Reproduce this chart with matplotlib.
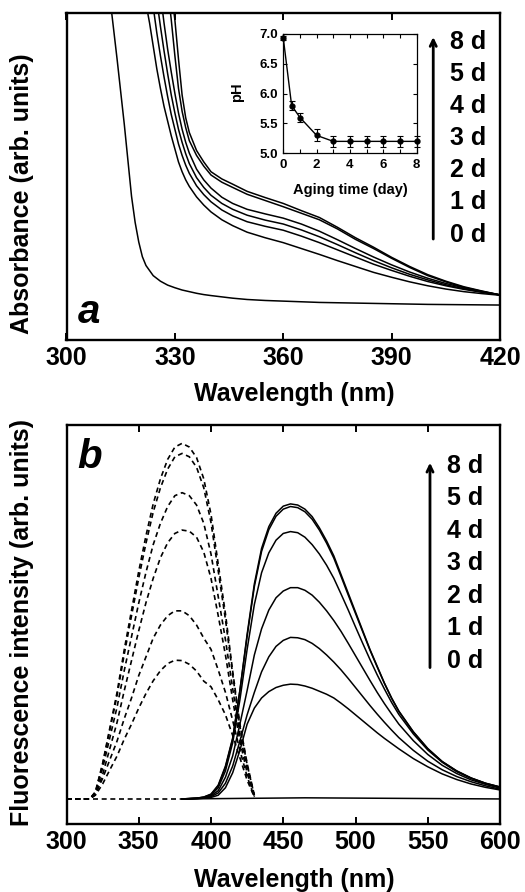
import matplotlib
matplotlib.use('Agg')
import matplotlib.pyplot as plt
from matplotlib.ticker import MultipleLocator

plt.rcParams['font.family'] = ['Liberation Sans', 'DejaVu Sans']
plt.rcParams['font.weight'] = 'bold'

# ---------------- data: panel a (absorbance) ----------------
day_labels = ['8 d', '5 d', '4 d', '3 d', '2 d', '1 d', '0 d']

abs0_wl = [310, 312, 314, 316, 318, 319, 320, 321, 322, 324, 326, 328, 330, 332, 334,
           336, 338, 340, 343, 346, 350, 355, 360, 365, 370, 380, 390, 400, 410, 420]
abs_0d = [1.3, 1.05, 0.86, 0.66, 0.44, 0.36, 0.30, 0.255, 0.228, 0.197, 0.18, 0.168, 0.16,
          0.153, 0.148, 0.143, 0.139, 0.136, 0.132, 0.128, 0.124, 0.121, 0.119, 0.117,
          0.115, 0.113, 0.111, 0.109, 0.108, 0.107]

abs_wl = [322, 323, 324, 325, 326, 327, 328, 329, 330, 331, 332, 333, 334, 336, 338, 340,
          343, 346, 350, 355, 360, 365, 370, 375, 380, 385, 390, 395, 400, 405, 410, 415, 420]
abs_1d = [1.03, 0.97, 0.90, 0.83, 0.77, 0.715, 0.67, 0.625, 0.585, 0.545, 0.515, 0.49, 0.47,
          0.438, 0.413, 0.392, 0.368, 0.35, 0.33, 0.313, 0.298, 0.28, 0.262, 0.243, 0.225,
          0.207, 0.192, 0.178, 0.166, 0.156, 0.148, 0.142, 0.137]
abs_2d = [1.18, 1.10, 1.02, 0.94, 0.87, 0.805, 0.745, 0.69, 0.645, 0.6, 0.565, 0.535, 0.51,
          0.472, 0.445, 0.423, 0.398, 0.38, 0.362, 0.348, 0.336, 0.318, 0.298, 0.276, 0.254,
          0.232, 0.213, 0.195, 0.179, 0.166, 0.155, 0.146, 0.138]
abs_3d = [1.3, 1.22, 1.13, 1.04, 0.96, 0.885, 0.815, 0.75, 0.695, 0.645, 0.605, 0.57, 0.54,
          0.497, 0.467, 0.443, 0.418, 0.4, 0.382, 0.367, 0.355, 0.337, 0.316, 0.292, 0.267,
          0.243, 0.221, 0.201, 0.184, 0.169, 0.157, 0.147, 0.138]
abs_4d = [1.42, 1.33, 1.24, 1.15, 1.06, 0.97, 0.89, 0.82, 0.755, 0.695, 0.645, 0.605, 0.572,
          0.523, 0.49, 0.465, 0.437, 0.418, 0.4, 0.386, 0.373, 0.355, 0.333, 0.307, 0.28,
          0.254, 0.23, 0.208, 0.189, 0.173, 0.16, 0.148, 0.138]
abs_5d = [1.7, 1.6, 1.5, 1.4, 1.29, 1.18, 1.08, 0.98, 0.87, 0.77, 0.70, 0.65, 0.61, 0.565,
          0.532, 0.505, 0.483, 0.467, 0.446, 0.427, 0.408, 0.388, 0.368, 0.34, 0.308, 0.28,
          0.25, 0.222, 0.197, 0.178, 0.161, 0.149, 0.138]
abs_8d = [1.8, 1.7, 1.6, 1.5, 1.38, 1.27, 1.17, 1.07, 0.98, 0.86, 0.75, 0.68, 0.635, 0.58,
          0.545, 0.515, 0.493, 0.477, 0.455, 0.436, 0.418, 0.396, 0.375, 0.345, 0.313, 0.284,
          0.253, 0.225, 0.2, 0.18, 0.163, 0.15, 0.138]

# inset: pH vs aging time
ph_days = [0, 0.5, 1, 2, 3, 4, 5, 6, 7, 8]
ph_vals = [6.93, 5.80, 5.60, 5.30, 5.20, 5.20, 5.20, 5.20, 5.20, 5.20]
ph_err = [0.03, 0.08, 0.08, 0.10, 0.09, 0.09, 0.09, 0.09, 0.09, 0.09]

# ---------------- data: panel b (fluorescence) ----------------
em_wl = [380, 390, 395, 400, 405, 410, 415, 420, 425, 430, 435, 440, 445, 450, 455, 460,
         465, 470, 475, 480, 485, 490, 495, 500, 505, 510, 515, 520, 525, 530, 540, 550,
         560, 570, 580, 590, 600]
em_8d = [0, 0.002, 0.005, 0.012, 0.035, 0.085, 0.16, 0.29, 0.44, 0.575, 0.67, 0.728, 0.764,
         0.783, 0.789, 0.786, 0.775, 0.755, 0.725, 0.69, 0.65, 0.60, 0.55, 0.50, 0.45, 0.40,
         0.355, 0.31, 0.27, 0.235, 0.18, 0.135, 0.10, 0.075, 0.056, 0.042, 0.032]
em_5d = [0, 0.002, 0.005, 0.013, 0.037, 0.088, 0.163, 0.29, 0.435, 0.568, 0.662, 0.72,
         0.756, 0.775, 0.782, 0.779, 0.768, 0.748, 0.719, 0.684, 0.644, 0.595, 0.545, 0.496,
         0.447, 0.398, 0.353, 0.309, 0.269, 0.234, 0.179, 0.134, 0.1, 0.075, 0.056, 0.042, 0.032]
em_4d = [0, 0.002, 0.004, 0.01, 0.03, 0.075, 0.15, 0.265, 0.40, 0.52, 0.605, 0.658, 0.692,
         0.71, 0.715, 0.712, 0.70, 0.68, 0.655, 0.625, 0.59, 0.548, 0.505, 0.46, 0.416,
         0.373, 0.332, 0.294, 0.258, 0.226, 0.174, 0.131, 0.098, 0.073, 0.055, 0.041, 0.031]
em_3d = [0, 0.001, 0.003, 0.008, 0.022, 0.058, 0.115, 0.20, 0.29, 0.385, 0.455, 0.505,
         0.538, 0.556, 0.565, 0.565, 0.558, 0.545, 0.526, 0.503, 0.477, 0.448, 0.416, 0.383,
         0.35, 0.317, 0.285, 0.255, 0.227, 0.2, 0.156, 0.119, 0.09, 0.068, 0.051, 0.039, 0.029]
em_2d = [0, 0.001, 0.002, 0.006, 0.016, 0.042, 0.088, 0.155, 0.225, 0.285, 0.34, 0.38,
         0.408, 0.424, 0.432, 0.431, 0.426, 0.416, 0.402, 0.385, 0.366, 0.345, 0.322, 0.298,
         0.274, 0.25, 0.227, 0.205, 0.184, 0.164, 0.13, 0.101, 0.078, 0.06, 0.046, 0.035, 0.026]
em_1d = [0, 0.001, 0.002, 0.004, 0.01, 0.03, 0.07, 0.13, 0.2, 0.243, 0.27, 0.287, 0.298,
         0.304, 0.307, 0.306, 0.302, 0.296, 0.288, 0.28, 0.27, 0.256, 0.241, 0.225, 0.209,
         0.193, 0.177, 0.162, 0.148, 0.134, 0.108, 0.086, 0.067, 0.052, 0.04, 0.031, 0.024]
em0_wl = [380, 465, 600]
em_0d = [0.0, 0.003, 0.0]

ex_wl = [300, 316, 320, 325, 330, 335, 340, 345, 350, 355, 360, 365, 370, 375, 380, 385,
         390, 395, 400, 405, 410, 415, 420, 425, 430]
ex_8d = [0, 0, 0.019, 0.095, 0.19, 0.285, 0.40, 0.504, 0.609, 0.704, 0.789, 0.856, 0.908,
         0.941, 0.951, 0.941, 0.913, 0.856, 0.761, 0.628, 0.495, 0.342, 0.20, 0.095, 0.01]
ex_5d = [0, 0, 0.018, 0.092, 0.185, 0.277, 0.388, 0.49, 0.591, 0.684, 0.767, 0.832, 0.882,
         0.915, 0.924, 0.915, 0.887, 0.832, 0.739, 0.61, 0.48, 0.333, 0.194, 0.092, 0.009]
ex_4d = [0, 0, 0.016, 0.082, 0.164, 0.246, 0.344, 0.434, 0.524, 0.606, 0.68, 0.737, 0.782,
         0.811, 0.819, 0.811, 0.786, 0.737, 0.655, 0.541, 0.426, 0.295, 0.172, 0.082, 0.008]
ex_3d = [0, 0, 0.012, 0.065, 0.135, 0.205, 0.29, 0.37, 0.45, 0.525, 0.59, 0.645, 0.685,
         0.71, 0.719, 0.716, 0.70, 0.66, 0.59, 0.49, 0.385, 0.265, 0.155, 0.07, 0.006]
ex_2d = [0, 0, 0.012, 0.055, 0.105, 0.155, 0.215, 0.27, 0.33, 0.38, 0.43, 0.465, 0.49,
         0.503, 0.503, 0.49, 0.465, 0.43, 0.40, 0.345, 0.285, 0.21, 0.13, 0.06, 0.005]
ex_1d = [0, 0, 0.01, 0.04, 0.078, 0.115, 0.16, 0.2, 0.243, 0.282, 0.316, 0.343, 0.362,
         0.371, 0.37, 0.36, 0.342, 0.315, 0.30, 0.265, 0.225, 0.17, 0.11, 0.05, 0.005]
ex0_wl = [300, 380]
ex_0d = [0.0, 0.0]

# ---------------- figure ----------------
W, H = 525, 892
fig = plt.figure(figsize=(W / 100, H / 100), dpi=100)


def rect(l, t, r, b):
    return [l / W, 1 - b / H, (r - l) / W, (b - t) / H]


axa = fig.add_axes(rect(66.5, 13.3, 500, 340))
axb = fig.add_axes(rect(66.5, 425, 500, 824))
axi = fig.add_axes(rect(283.3, 34, 416.7, 153.3))

LW = 1.1
for ax in (axa, axb):
    for s in ax.spines.values():
        s.set_linewidth(1.7)
    ax.tick_params(axis='x', direction='in', length=5, width=1.4, top=True, bottom=True,
                   labelsize=18, pad=4)
    ax.set_yticks([])

# panel a
axa.plot(abs0_wl, abs_0d, color='black', lw=LW)
for y in (abs_1d, abs_2d, abs_3d, abs_4d, abs_5d, abs_8d):
    axa.plot(abs_wl, y, color='black', lw=LW)
axa.set_xlim(300, 420)
axa.set_ylim(0, 1)
axa.set_xticks([300, 330, 360, 390, 420])
axa.text(0.026, 0.052, 'a', transform=axa.transAxes, fontsize=29, style='italic',
         fontweight='bold', ha='left', va='baseline')

# panel b
dash = (0, (3.0, 2.2))
axb.plot(ex0_wl, ex_0d, color='black', lw=1.2, linestyle=dash)
for y in (ex_1d, ex_2d, ex_3d, ex_4d, ex_5d, ex_8d):
    axb.plot(ex_wl, y, color='black', lw=1.2, linestyle=dash)
axb.plot(em0_wl, em_0d, color='black', lw=LW)
for y in (em_1d, em_2d, em_3d, em_4d, em_5d, em_8d):
    axb.plot(em_wl, y, color='black', lw=LW)
axb.set_xlim(300, 600)
axb.set_ylim(-0.067, 1.0)
axb.set_xticks([300, 350, 400, 450, 500, 550, 600])
axb.text(0.024, 0.892, 'b', transform=axb.transAxes, fontsize=29, style='italic',
         fontweight='bold', ha='left', va='baseline')

# day labels and arrows
for i, lab in enumerate(day_labels):
    ya = (340 - (48.3 + 32.2 * i)) / 327
    axa.text(0.885, ya, lab, transform=axa.transAxes, fontsize=18, ha='left', va='baseline')
    yb = (824 - (472.7 + 32.5 * i)) / 399
    axb.text(0.878, yb, lab, transform=axb.transAxes, fontsize=18, ha='left', va='baseline')

arrow_kw = dict(arrowstyle='->,head_length=0.45,head_width=0.22', lw=2.0, color='black',
                shrinkA=0, shrinkB=0)
axa.annotate('', xy=(0.846, 0.9275), xytext=(0.846, 0.309), xycoords='axes fraction',
             textcoords='axes fraction', arrowprops=arrow_kw)
axb.annotate('', xy=(0.8385, 0.9055), xytext=(0.8385, 0.392), xycoords='axes fraction',
             textcoords='axes fraction', arrowprops=arrow_kw)

# axis labels
fig.text(22 / W, 1 - 194 / H, 'Absorbance (arb. units)', rotation=90, fontsize=18,
         ha='center', va='center')
fig.text(22 / W, 1 - 623 / H, 'Fluorescence intensity (arb. units)', rotation=90,
         fontsize=18, ha='center', va='center')
fig.text(294 / W, 1 - 400.5 / H, 'Wavelength (nm)', fontsize=18, ha='center', va='baseline')
fig.text(294 / W, 1 - 886.5 / H, 'Wavelength (nm)', fontsize=18, ha='center', va='baseline')

# inset
axi.errorbar(ph_days, ph_vals, yerr=ph_err, color='black', lw=1.0, marker='o',
             markersize=3.5, capsize=2, elinewidth=0.8, capthick=0.8, clip_on=False)
axi.set_xlim(0, 8)
axi.set_ylim(5.0, 7.0)
axi.xaxis.set_major_locator(MultipleLocator(2))
axi.xaxis.set_minor_locator(MultipleLocator(1))
axi.set_yticks([5.0, 5.5, 6.0, 6.5, 7.0])
axi.set_yticklabels(['5.0', '5.5', '6.0', '6.5', '7.0'])
axi.tick_params(which='both', direction='in', top=True, right=True, length=3, width=0.8,
                labelsize=9.5, pad=4)
for s in axi.spines.values():
    s.set_linewidth(0.9)
axi.set_xlabel('Aging time (day)', fontsize=10.5, fontweight='bold', labelpad=9)
fig.text(237 / W, 1 - 92 / H, 'pH', rotation=90, fontsize=10.5, ha='center', va='center')

fig.savefig('out.png', dpi=100)
